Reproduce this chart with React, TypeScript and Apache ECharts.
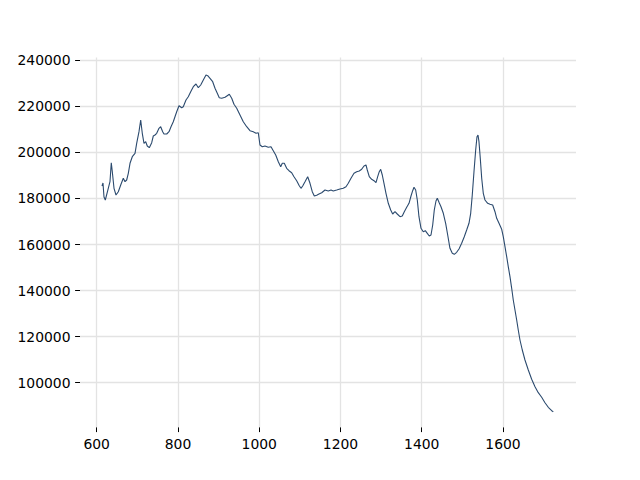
import React, { useEffect, useRef } from "react";
import * as echarts from "echarts";

const wavenumber: number[] = [
  613.0, 615.5, 616.7, 618.0, 621.2, 628.5, 632.7, 635.9, 638.4, 642.6,
  647.5, 653.2, 659.1, 665.5, 669.7, 673.8, 677.8, 682.0, 687.6, 694.3,
  698.4, 704.1, 708.3, 712.2, 716.4, 720.6, 724.5, 729.5, 735.4, 739.3,
  743.5, 747.7, 753.3, 757.5, 762.4, 765.6, 772.3, 778.0, 782.9, 788.5,
  792.7, 796.9, 802.6, 809.2, 813.1, 819.8, 825.4, 831.4, 837.8, 844.4,
  850.1, 856.0, 862.4, 869.0, 873.2, 878.9, 885.5, 891.2, 896.8, 901.7,
  907.7, 915.8, 921.4, 926.4, 932.3, 937.9, 944.6, 952.7, 960.8, 969.2,
  977.3, 985.4, 992.1, 997.7, 1001.9, 1007.6, 1014.2, 1022.3, 1029.0, 1034.6,
  1040.6, 1047.0, 1052.9, 1056.8, 1061.7, 1067.6, 1073.3, 1079.9, 1085.6, 1092.2,
  1098.6, 1102.8, 1107.0, 1112.7, 1119.3, 1125.0, 1130.6, 1135.6, 1141.5, 1147.1,
  1153.8, 1161.9, 1170.0, 1176.7, 1182.3, 1190.7, 1198.8, 1206.9, 1213.6, 1219.2,
  1225.9, 1233.3, 1239.9, 1246.3, 1252.2, 1257.9, 1262.8, 1266.0, 1270.9, 1276.8,
  1282.5, 1287.4, 1291.6, 1295.5, 1299.0, 1302.9, 1307.1, 1312.0, 1317.7, 1323.6,
  1328.5, 1334.2, 1339.8, 1346.5, 1352.1, 1357.1, 1363.0, 1368.7, 1373.6, 1377.7,
  1381.0, 1385.1, 1389.1, 1393.2, 1398.2, 1403.8, 1408.8, 1413.7, 1418.6, 1422.8,
  1427.0, 1430.9, 1435.1, 1438.3, 1442.5, 1447.4, 1453.1, 1458.9, 1463.9, 1469.5,
  1475.2, 1480.1, 1486.0, 1491.7, 1498.3, 1504.7, 1510.6, 1516.3, 1520.5, 1524.4,
  1528.6, 1532.8, 1536.0, 1538.5, 1540.9, 1544.1, 1547.6, 1551.5, 1555.7, 1562.3,
  1568.0, 1574.6, 1580.3, 1584.5, 1590.2, 1596.8, 1600.7, 1604.9, 1609.1, 1613.0,
  1617.2, 1621.4, 1625.3, 1629.5, 1633.7, 1637.6, 1641.8, 1647.5, 1654.1, 1662.3,
  1670.6, 1678.8, 1686.9, 1695.2, 1703.4, 1711.5, 1719.9, 1723.8,
];

const intensity: number[] = [
  185421, 186724, 183684, 180645, 179342, 184422, 187288, 195538, 191630, 184422,
  181513, 182946, 185855, 188764, 187288, 188026, 190935, 195277, 198143, 199619,
  203961, 208998, 214078, 208303, 203961, 204656, 202789, 202051, 204222, 207131,
  207565, 208303, 210474, 211169, 208998, 207999, 208000, 208998, 211169, 213340,
  215511, 217682, 220287, 219419, 219853, 222762, 224195, 226366, 228537, 229709,
  228103, 229275, 231446, 233617, 233313, 232184, 230708, 227842, 225671, 223761,
  223500, 223934, 224629, 225237, 223500, 220895, 219158, 216249, 213340, 211169,
  209432, 208998, 208303, 208563, 203223, 202485, 202789, 202225, 202485, 200748,
  198881, 195972, 193801, 195277, 195277, 193106, 192064, 191196, 189459, 187722,
  185551, 184422, 185421, 187288, 189459, 186593, 182946, 181079, 181382, 181948,
  182511, 183684, 183250, 183684, 183250, 183684, 184118, 184422, 185117, 186593,
  188764, 190935, 191630, 191934, 192672, 194105, 194539, 192369, 189459, 188330,
  187722, 186854, 189459, 191630, 192672, 190198, 186593, 182251, 177909, 175000,
  173263, 174262, 173263, 172091, 172395, 174262, 176173, 177909, 181079, 183381,
  184857, 183684, 179342, 172091, 167054, 165580, 166014, 164883, 163711, 164145,
  168488, 175000, 178908, 180080, 178344, 176433, 173567, 169225, 164145, 158370,
  156199, 155765, 156633, 158066, 160541, 163407, 166316, 169225, 173567, 181513,
  191630, 201053, 206827, 207565, 204656, 197448, 188764, 182251, 179342, 177909,
  177475, 177171, 174262, 171396, 169225, 166620, 163407, 159065, 154723, 150381,
  146039, 141002, 135922, 131580, 127238, 122896, 118554, 114212, 109870, 105528,
  101490, 98277, 95672, 93675, 91332, 89333, 87857, 87423,
];

const xTicks: number[] = [600, 800, 1000, 1200, 1400, 1600];
const yTicks: number[] = [100000, 120000, 140000, 160000, 180000, 200000, 220000, 240000];

const FONT = "DejaVu Sans";
const GRID_COLOR = "#e3e3e3";

export default function App() {
  const ref = useRef<HTMLDivElement>(null);

  useEffect(() => {
    if (!ref.current) return;
    const chart = echarts.init(ref.current, undefined, { renderer: "svg" });
    const lineData = wavenumber.map((x, i) => [x, intensity[i]]);
    const gridMarks = [
      ...xTicks.map((v) => ({ xAxis: v })),
      ...yTicks.map((v) => ({ yAxis: v })),
    ];
    const fmt = (v: number) => String(v);
    chart.setOption({
      animation: false,
      backgroundColor: "#ffffff",
      grid: { left: 80, right: 64, top: 57.6, bottom: 52.8, containLabel: false },
      xAxis: {
        type: "value",
        min: 558.9,
        max: 1779.7,
        axisLine: { show: false },
        splitLine: { show: false },
        axisTick: {
          show: true,
          customValues: xTicks,
          length: 4.9,
          inside: false,
          lineStyle: { color: "#000000", width: 1 },
        },
        axisLabel: {
          customValues: xTicks,
          formatter: fmt,
          margin: 9.5,
          color: "#000000",
          fontFamily: FONT,
          fontSize: 13.9,
        },
      },
      yAxis: {
        type: "value",
        min: 80692,
        max: 241172,
        axisLine: { show: false },
        splitLine: { show: false },
        axisTick: {
          show: true,
          customValues: yTicks,
          length: 4.9,
          inside: false,
          lineStyle: { color: "#000000", width: 1 },
        },
        axisLabel: {
          customValues: yTicks,
          formatter: fmt,
          margin: 9.5,
          color: "#000000",
          fontFamily: FONT,
          fontSize: 13.9,
        },
      },
      series: [
        {
          type: "line",
          data: [],
          z: 0,
          zlevel: 0,
          silent: true,
          markLine: {
            silent: true,
            symbol: ["none", "none"],
            label: { show: false },
            lineStyle: { color: GRID_COLOR, width: 1.3, type: "solid" },
            emphasis: { disabled: true },
            data: gridMarks,
          },
        },
        {
          type: "line",
          data: lineData,
          z: 20,
          zlevel: 1,
          showSymbol: false,
          symbol: "none",
          smooth: false,
          lineStyle: { color: "#2b4a6e", width: 1.1 },
        },
      ],
    });
    return () => chart.dispose();
  }, []);

  return <div ref={ref} style={{ width: 640, height: 480, margin: -8 }} />;
}
